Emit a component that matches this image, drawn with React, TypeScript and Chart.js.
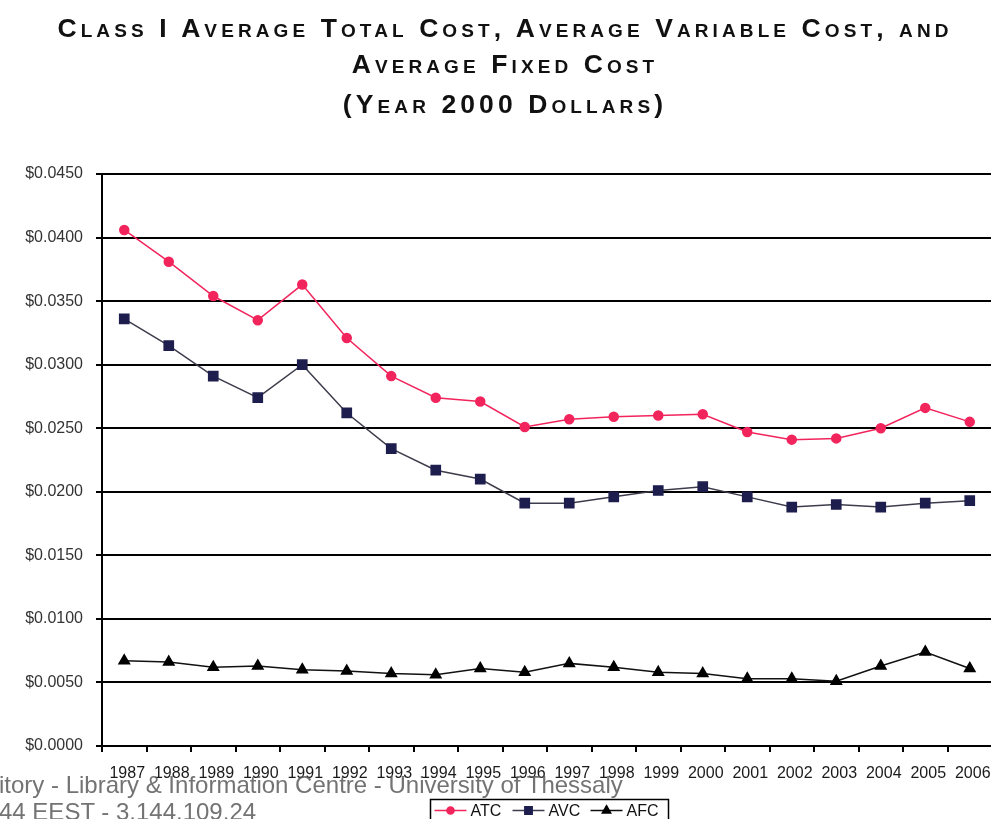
import React, { useEffect, useRef } from 'react';
import { Chart, registerables } from 'chart.js';
import { drawPoint } from 'chart.js/helpers';

Chart.register(...registerables);

const years = ['1987', '1988', '1989', '1990', '1991', '1992', '1993', '1994', '1995', '1996', '1997', '1998', '1999', '2000', '2001', '2002', '2003', '2004', '2005', '2006'];
const atc = [0.0406, 0.0381, 0.0354, 0.0335, 0.0363, 0.0321, 0.0291, 0.0274, 0.0271, 0.0251, 0.0257, 0.0259, 0.0260, 0.0261, 0.0247, 0.0241, 0.0242, 0.0250, 0.0266, 0.0255];
const avc = [0.0336, 0.0315, 0.0291, 0.0274, 0.0300, 0.0262, 0.0234, 0.0217, 0.0210, 0.0191, 0.0191, 0.0196, 0.0201, 0.0204, 0.0196, 0.0188, 0.0190, 0.0188, 0.0191, 0.0193];
const afc = [0.0067, 0.0066, 0.0062, 0.0063, 0.0060, 0.0059, 0.0057, 0.0056, 0.0061, 0.0058, 0.0065, 0.0062, 0.0058, 0.0057, 0.0053, 0.0053, 0.0051, 0.0063, 0.0074, 0.0061];
const seriesNames = ['ATC', 'AVC', 'AFC'];
const titleLines = ['Class I Average Total Cost, Average Variable Cost, and', 'Average Fixed Cost', '(Year 2000 Dollars)'];
const watermarkLines = ['itory - Library & Information Centre - University of Thessaly', '44 EEST - 3.144.109.24'];
const yMin = 0;
const yMax = 0.045;
const yStep = 0.005;

const CANVAS_W = 1000;

const boxLegend = {
  id: 'boxLegend',
  afterDraw(chart: any) {
    const ctx = chart.ctx;
    const { left, right, bottom } = chart.chartArea;
    const cx = (left + right) / 2 + 2;
    const w = 238;
    const h = 30;
    const bx = Math.round(cx - w / 2) + 0.5;
    const by = bottom + 53.5;
    ctx.save();
    ctx.fillStyle = '#fff';
    ctx.fillRect(bx, by, w, h);
    ctx.strokeStyle = '#000';
    ctx.lineWidth = 1.5;
    ctx.strokeRect(bx, by, w, h);
    const my = by + 11;
    ctx.font = '16px "Liberation Sans", Arial, sans-serif';
    ctx.textBaseline = 'middle';
    ctx.textAlign = 'left';
    chart.data.datasets.forEach((ds: any, i: number) => {
      const x0 = bx + 4 + i * 78;
      ctx.strokeStyle = ds.borderColor;
      ctx.lineWidth = 1.5;
      ctx.beginPath();
      ctx.moveTo(x0, my);
      ctx.lineTo(x0 + 32, my);
      ctx.stroke();
      ctx.fillStyle = ds.pointBackgroundColor;
      ctx.strokeStyle = ds.pointBorderColor;
      drawPoint(ctx, { pointStyle: ds.pointStyle, radius: ds.pointRadius * 0.8, borderWidth: 1, rotation: 0 }, x0 + 16, my);
      ctx.fillStyle = '#111';
      ctx.fillText(ds.label, x0 + 36, my + 1);
    });
    ctx.restore();
  },
};

export default function App() {
  const ref = useRef<HTMLCanvasElement>(null);
  useEffect(() => {
    if (!ref.current) return;
    const chart = new Chart(ref.current, {
      type: 'line',
      data: {
        labels: years,
        datasets: [
          {
            label: seriesNames[0],
            data: atc,
            borderColor: '#F2245C',
            backgroundColor: '#F2245C',
            pointBackgroundColor: '#F2245C',
            pointBorderColor: '#F2245C',
            pointStyle: 'circle',
            pointRadius: 4.5,
            borderWidth: 1.5,
            tension: 0,
          },
          {
            label: seriesNames[1],
            data: avc,
            borderColor: '#3C3C4C',
            backgroundColor: '#1E1E4E',
            pointBackgroundColor: '#1E1E4E',
            pointBorderColor: '#1E1E4E',
            pointStyle: 'rect',
            pointRadius: 6.5,
            borderWidth: 1.5,
            tension: 0,
          },
          {
            label: seriesNames[2],
            data: afc,
            borderColor: '#111',
            backgroundColor: '#000',
            pointBackgroundColor: '#000',
            pointBorderColor: '#000',
            pointStyle: 'triangle',
            pointRadius: 6,
            borderWidth: 1.5,
            tension: 0,
          },
        ],
      },
      options: {
        animation: false,
        responsive: false,
        layout: { padding: { top: 174, right: 0, bottom: 0, left: 0 } },
        plugins: {
          legend: { display: false },
          title: { display: false },
          tooltip: { enabled: false },
        },
        scales: {
          x: {
            offset: true,
            grid: {
              offset: true,
              drawOnChartArea: false,
              drawTicks: true,
              tickLength: 6,
              color: '#000',
              lineWidth: 2,
            },
            border: { color: '#000', width: 2 },
            ticks: {
              autoSkip: false,
              maxRotation: 0,
              minRotation: 0,
              padding: 12,
              labelOffset: 3,
              color: '#1a1a1a',
              font: { family: '"Liberation Sans", Arial, sans-serif', size: 16 },
            },
            afterFit: (scale: any) => {
              scale.height = 73;
            },
          },
          y: {
            min: yMin,
            max: yMax,
            grid: {
              color: '#000',
              lineWidth: 2,
              drawTicks: true,
              tickLength: 6,
            },
            border: { color: '#000', width: 2 },
            ticks: {
              stepSize: yStep,
              padding: 13,
              color: '#333',
              font: { family: '"Liberation Sans", Arial, sans-serif', size: 16 },
              callback: (v: any) => '$' + Number(v).toFixed(4),
            },
            afterFit: (scale: any) => {
              scale.width = 102;
            },
          },
        },
      },
      plugins: [boxLegend],
    });
    return () => chart.destroy();
  }, []);

  const titleTops = [10, 46, 86];

  return (
    <div style={{ position: 'absolute', left: 0, top: 0, width: 991, height: 819, overflow: 'hidden', background: '#fff' }}>
      <canvas ref={ref} width={CANVAS_W} height={819} style={{ position: 'absolute', left: 0, top: 0, width: CANVAS_W, height: 819 }} />
      {titleLines.map((t, i) => (
        <div
          key={i}
          style={{
            position: 'absolute',
            left: 55,
            top: titleTops[i],
            width: 900,
            textAlign: 'center',
            fontFamily: '"Liberation Sans", Arial, sans-serif',
            fontWeight: 'bold',
            fontSize: 26.5,
            fontVariant: 'small-caps',
            letterSpacing: '4.1px',
            lineHeight: '36px',
            color: '#111',
            whiteSpace: 'nowrap',
          }}
        >
          {t}
        </div>
      ))}
      <div
        style={{
          position: 'absolute',
          left: -1,
          top: 771,
          fontFamily: '"Liberation Sans", Arial, sans-serif',
          fontSize: 24,
          lineHeight: '27px',
          color: 'rgba(90,90,90,0.85)',
          whiteSpace: 'nowrap',
        }}
      >
        {watermarkLines.map((t, i) => (
          <div key={i}>{t}</div>
        ))}
      </div>
    </div>
  );
}
